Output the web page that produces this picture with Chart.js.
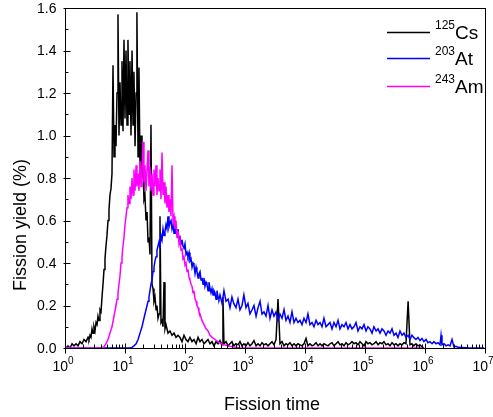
<!DOCTYPE html>
<html><head><meta charset="utf-8">
<script src="https://cdn.jsdelivr.net/npm/chart.js@4.4.1/dist/chart.umd.min.js"></script>
<style>html,body{margin:0;padding:0;background:#fff}canvas{display:block}</style>
</head><body>
<canvas id="c" width="493" height="417"></canvas>
<script>
// ---- data (fission time, fission yield %) ----
const csTime = [1.04,1.12,1.21,1.31,1.41,1.53,1.65,1.78,1.92,2.07,2.24,2.42,2.51,2.61,2.71,2.82,2.93,3.04,3.16,3.29,3.42,3.55,3.69,3.83,3.98,4.14,4.30,4.47,4.64,4.82,5.01,5.21,5.41,5.62,5.84,6.07,6.31,6.56,6.81,7.08,7.36,7.64,7.94,8.25,8.58,8.91,9.26,9.62,10.0,10.4,10.8,11.2,11.7,12.1,12.6,13.1,13.6,14.1,14.7,15.3,15.8,16.5,17.1,17.8,18.5,19.2,20.0,20.7,21.5,22.4,23.3,24.2,25.1,26.1,27.1,28.2,29.3,30.4,31.6,32.9,34.1,35.5,36.9,38.3,39.8,41.4,43.0,44.7,46.4,48.2,52.1,56.2,60.7,65.6,70.8,76.4,
  82.5,89.1,96.2,104,112,121,131,141,153,165,178,192,207,224,242,261,282,304,329,355,
  383,414,429,446,482,523,562,606,649,707,764,
  825,891,958,1040,1120,1210,1310,1410,1530,1650,
  1780,1920,2070,2240,2420,2610,2820,3040,3290,3550,
  3830,4140,4470,4820,5210,5620,6070,6560,7080,7640,
  8250,8910,9620,10400,11200,12100,13100,14100,15300,16500,
  17800,19200,20700,22400,24200,26100,28200,30400,32900,35500,
  38300,41400,44700,48200,52100,56200,60700,65600,70800,76400,
  82500,89100,96200,104000,112000,121000,131000,141000,153000,165000,
  178000,192000,207000,224000,242000,261000,282000,304000,329000,355000,
  383000,414000,446000,482000,523000,562000,606000,649000,707000,764000,
  825000,891000,958000];
const csYield = [0.00,0.01,0.00,0.02,0.01,0.02,0.01,0.03,0.02,0.04,0.03,0.05,0.04,0.06,0.05,0.09,0.07,0.10,0.08,0.12,0.11,0.15,0.13,0.18,0.17,0.24,0.30,0.37,0.42,0.48,0.53,0.60,0.65,0.72,0.75,0.82,1.33,0.90,1.05,0.95,1.20,1.57,1.00,1.25,1.05,1.35,1.02,1.45,1.08,1.40,1.05,1.45,1.10,1.35,1.00,1.40,1.05,1.30,0.95,1.20,1.58,0.90,1.32,0.85,1.00,0.80,0.85,0.70,0.72,0.60,0.64,0.50,0.52,0.44,1.05,0.30,0.28,0.22,0.24,0.18,0.20,0.14,0.16,0.62,0.12,0.13,0.10,0.31,0.09,0.11,0.07,0.08,0.06,0.07,0.05,0.06,
  0.05,0.03,0.06,0.04,0.03,0.05,0.03,0.04,0.02,0.05,0.03,0.04,0.02,0.03,0.04,0.02,0.03,0.01,0.03,0.02,
  0.035,0.015,0.24,0.02,0.03,0.01,0.02,0.03,0.01,0.02,0.015,
  0.03,0.01,0.02,0.01,0.025,0.01,0.02,0.035,0.01,0.02,
  0.01,0.025,0.015,0.02,0.01,0.02,0.03,0.015,0.04,0.23,
  0.02,0.03,0.01,0.02,0.015,0.025,0.01,0.02,0.01,0.02,
  0.015,0.01,0.02,0.045,0.01,0.02,0.01,0.015,0.025,0.01,
  0.02,0.01,0.02,0.015,0.01,0.02,0.025,0.01,0.02,0.03,
  0.015,0.02,0.01,0.025,0.015,0.02,0.03,0.02,0.025,0.015,
  0.03,0.02,0.01,0.03,0.02,0.025,0.015,0.02,0.03,0.015,
  0.025,0.02,0.03,0.015,0.02,0.01,0.025,0.015,0.02,0.01,
  0.02,0.015,0.025,0.02,0.22,0.015,0.02,0.01,0.02,0.01,
  0.015,0.005,0.0];

const atTime = [1,12.1,13.1,14.1,15.3,16.5,17.8,19.2,20.7,22.4,24.2,25.1,26.1,27.1,28.2,29.3,30.4,31.6,32.9,34.1,35.5,
  36.9,38.3,39.8,41.4,43.0,44.7,46.4,48.2,50.1,52.1,54.1,56.2,58.4,60.7,63.1,65.6,68.1,70.8,73.6,76.4,79.4,82.5,85.8,89.1,92.6,96.2,100,104,108,112,117,121,126,131,136,141,147,153,158,165,171,178,185,192,200,207,215,224,232,242,251,261,271,282,293,304,316,329,341,355,368,
  383,414,446,482,523,562,606,649,707,764,
  825,891,958,1040,1120,1210,1310,1410,1530,1650,
  1780,1920,2070,2240,2420,2610,2820,3040,3290,3550,
  3830,4140,4470,4820,5210,5620,6070,6560,7080,7640,
  8250,8910,9620,10400,11200,12100,13100,14100,15300,16500,
  17800,19200,20700,22400,24200,26100,28200,30400,32900,35500,
  38300,41400,44700,48200,52100,56200,60700,65600,70800,76400,
  82500,89100,96200,104000,112000,121000,131000,141000,153000,165000,
  178000,192000,207000,224000,242000,261000,282000,304000,329000,355000,
  383000,414000,446000,482000,523000,562000,606000,649000,707000,764000,
  825000,891000,958000,1040000,1120000,1210000,1310000,1410000,1530000,1650000,
  1780000,1850000,1920000,2070000,2240000,2420000,2610000,2820000,3040000,3290000,3550000,4140000,4820000,5620000,9700000];
const atYield = [0,0,0.003,0.01,0.02,0.04,0.07,0.10,0.14,0.18,0.22,0.24,0.27,0.30,0.32,0.36,0.38,0.41,0.43,0.46,0.48,
  0.50,0.47,0.53,0.51,0.56,0.53,0.55,0.58,0.56,0.62,0.57,0.59,0.60,0.56,0.58,0.54,0.57,0.55,0.53,0.56,0.51,0.52,0.49,0.51,0.48,0.47,0.49,0.44,0.45,0.43,0.45,0.41,0.42,0.38,0.40,0.39,0.35,0.38,0.36,0.33,0.35,0.36,0.32,0.33,0.30,0.33,0.29,0.31,0.30,0.27,0.31,0.28,0.26,0.28,0.25,0.27,0.26,0.23,0.27,0.24,0.23,
  0.25,0.21,0.27,0.22,0.23,0.19,0.24,0.21,0.19,0.23,
  0.18,0.20,0.25,0.19,0.21,0.16,0.18,0.20,0.15,0.19,
  0.22,0.16,0.17,0.15,0.20,0.14,0.18,0.15,0.17,0.13,
  0.16,0.14,0.18,0.13,0.15,0.12,0.17,0.12,0.14,0.12,
  0.13,0.11,0.14,0.12,0.16,0.11,0.12,0.10,0.13,0.11,
  0.12,0.10,0.14,0.10,0.11,0.12,0.09,0.12,0.10,0.13,
  0.09,0.11,0.10,0.12,0.09,0.11,0.09,0.10,0.12,0.08,
  0.10,0.09,0.11,0.08,0.10,0.09,0.07,0.10,0.08,0.09,
  0.07,0.09,0.08,0.06,0.08,0.07,0.09,0.06,0.07,0.05,
  0.08,0.06,0.07,0.05,0.06,0.04,0.06,0.05,0.04,0.05,
  0.035,0.045,0.03,0.04,0.025,0.03,0.02,0.03,0.02,0.025,
  0.015,0.06,0.015,0.02,0.01,0.015,0.01,0.04,0.005,0.008,0.003,0.002,0.001,0,0];

const amTime = [1,3.83,4.47,4.82,5.21,5.62,6.07,6.56,7.08,7.36,7.64,7.94,8.25,8.58,8.91,9.26,9.62,10.0,10.4,10.8,11.2,11.7,12.1,12.6,13.1,13.6,14.1,14.7,15.3,15.8,16.5,17.1,17.8,18.5,19.2,20.0,20.7,21.5,22.4,23.3,24.2,25.1,26.1,27.1,28.2,29.3,30.4,31.6,32.9,34.1,35.5,36.9,38.3,39.8,41.4,43.0,44.7,46.4,48.2,50.1,52.1,54.1,56.2,58.4,60.7,63.1,65.6,68.1,70.8,73.6,76.4,79.4,82.5,85.8,89.1,92.6,96.2,100,104,108,112,117,121,126,131,136,141,147,153,158,165,171,178,192,207,224,242,261,282,316,355,398,446,523,649,825,960000];
const amYield = [0,0,0.005,0.02,0.04,0.07,0.10,0.15,0.20,0.23,0.26,0.30,0.34,0.40,0.43,0.48,0.52,0.58,0.62,0.66,0.72,0.68,0.76,0.70,0.80,0.72,0.84,0.74,0.86,0.76,0.82,0.74,0.88,0.76,0.84,0.97,0.78,0.86,0.74,0.84,0.93,0.76,0.85,0.74,0.82,0.72,0.84,0.76,0.86,0.72,0.80,0.74,0.84,0.70,0.92,0.72,0.78,0.68,0.76,0.66,0.72,0.64,0.70,0.62,0.86,0.60,0.62,0.56,0.60,0.52,0.55,0.49,0.51,0.46,0.47,0.42,0.43,0.39,0.40,0.36,0.37,0.33,0.32,0.30,0.29,0.26,0.27,0.23,0.22,0.20,0.19,0.17,0.16,0.13,0.11,0.09,0.08,0.06,0.05,0.04,0.03,0.02,0.015,0.01,0.005,0,0];

const xDecades = [0,1,2,3,4,5,6,7];
const yTicks = [0.0,0.2,0.4,0.6,0.8,1.0,1.2,1.4,1.6];
const seriesNames = [["125","Cs"],["203","At"],["243","Am"]];
const seriesColors = ["#000000","#0000ff","#ff00ff"];

const pts = (xs, ys) => xs.map((x,i)=>({x:x, y:ys[i]}));

const FONT = "'Liberation Sans', Arial, sans-serif";

const framePlugin = {
  id: 'frame',
  afterDraw(chart) {
    const ctx = chart.ctx, a = chart.chartArea;
    const xs = chart.scales.x, ys = chart.scales.y;
    ctx.save();
    ctx.strokeStyle = '#000'; ctx.lineWidth = 1;
    ctx.strokeRect(Math.round(a.left)+0.5, Math.round(a.top)+0.5, Math.round(a.right-a.left), Math.round(a.bottom-a.top));
    const B = Math.round(a.bottom)+0.5, L = Math.round(a.left)+0.5;
    ctx.beginPath();
    for (const d of xDecades) {
      const p = Math.round(xs.getPixelForValue(Math.pow(10,d)))+0.5;
      ctx.moveTo(p, B-5); ctx.lineTo(p, B+5);
      if (d < xDecades[xDecades.length-1]) {
        for (let k=2;k<=9;k++){
          const q = Math.round(xs.getPixelForValue(k*Math.pow(10,d)))+0.5;
          ctx.moveTo(q, B-4); ctx.lineTo(q, B);
        }
      }
    }
    for (let i=0;i<yTicks.length;i++){
      const p = Math.round(ys.getPixelForValue(yTicks[i]))+0.5;
      ctx.moveTo(L-2, p); ctx.lineTo(L+5, p);
      if (i < yTicks.length-1) {
        const q = Math.round(ys.getPixelForValue((yTicks[i]+yTicks[i+1])/2))+0.5;
        ctx.moveTo(L, q); ctx.lineTo(L+3, q);
      }
    }
    ctx.stroke();
    ctx.fillStyle = '#000';
    ctx.font = '14px ' + FONT; ctx.textAlign = 'right'; ctx.textBaseline = 'middle';
    for (const v of yTicks) ctx.fillText(v.toFixed(1), L-9, ys.getPixelForValue(v)+1);
    ctx.textBaseline = 'alphabetic';
    for (const d of xDecades) {
      const p = xs.getPixelForValue(Math.pow(10,d));
      ctx.font = '14px ' + FONT; const w1 = ctx.measureText('10').width;
      ctx.font = '10px ' + FONT; const w2 = ctx.measureText(String(d)).width;
      const x0 = p - (w1+w2)/2 - 2;
      ctx.textAlign = 'left';
      ctx.font = '14px ' + FONT; ctx.fillText('10', x0, B+22);
      ctx.font = '10px ' + FONT; ctx.fillText(String(d), x0+w1, B+15);
    }
    ctx.font = '18px ' + FONT; ctx.textAlign = 'center';
    ctx.fillText('Fission time', (a.left+a.right)/2 - 3, B+61);
    ctx.save();
    ctx.translate(26, 225); ctx.rotate(-Math.PI/2);
    ctx.fillText('Fission yield (%)', 0, 0);
    ctx.restore();
    const rows = [32, 58, 86];
    for (let i=0;i<3;i++){
      const y = rows[i];
      ctx.strokeStyle = seriesColors[i]; ctx.lineWidth = 1.3;
      ctx.beginPath(); ctx.moveTo(387, y+0.5); ctx.lineTo(430, y+0.5); ctx.stroke();
      ctx.textAlign = 'left';
      ctx.font = '12px ' + FONT; ctx.fillText(seriesNames[i][0], 435, y-3);
      const ws = ctx.measureText(seriesNames[i][0]).width;
      ctx.font = '19px ' + FONT; ctx.fillText(seriesNames[i][1], 435+ws, y+7);
    }
    ctx.restore();
  }
};

new Chart(document.getElementById('c'), {
  type: 'line',
  data: {
    datasets: [
      {label:'243Am', data: pts(amTime, amYield), borderColor: seriesColors[2], order: 0},
      {label:'203At', data: pts(atTime, atYield), borderColor: seriesColors[1], order: 1},
      {label:'125Cs', data: pts(csTime, csYield), borderColor: seriesColors[0], order: 2}
    ]
  },
  options: {
    responsive: false, animation: false, devicePixelRatio: 1,
    datasets: { line: { borderWidth: 1.5, pointRadius: 0, tension: 0, fill: false } },
    layout: { padding: { top: 8, right: 8, left: 0, bottom: 0 } },
    plugins: { legend: { display: false }, tooltip: { enabled: false } },
    scales: {
      x: { type: 'logarithmic', min: 1, max: 1e7, grid: { display: false }, border: { display: false },
           ticks: { display: false }, afterFit(s){ s.height = 69; } },
      y: { type: 'linear', min: 0, max: 1.6, grid: { display: false }, border: { display: false },
           ticks: { display: false }, afterFit(s){ s.width = 65; } }
    }
  },
  plugins: [framePlugin]
});
</script>
</body></html>
